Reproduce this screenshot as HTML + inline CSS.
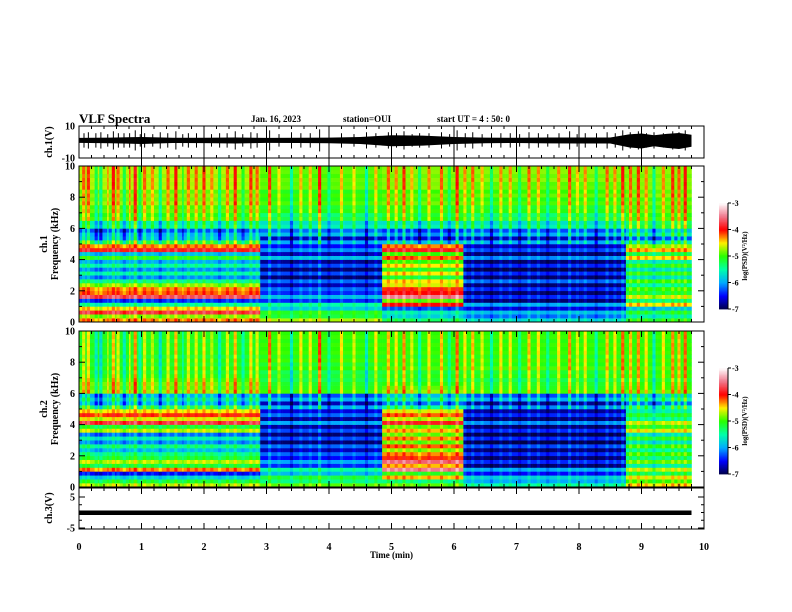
<!DOCTYPE html>
<html><head><meta charset="utf-8"><style>
body{margin:0;background:#fff;width:792px;height:612px;overflow:hidden}
svg{display:block}
text{font-family:"Liberation Serif",serif;font-weight:bold;fill:#000}
</style></head><body>
<svg id="s" width="792" height="612" viewBox="0 0 792 612" xmlns="http://www.w3.org/2000/svg">
<text x="79" y="123" font-size="13">VLF Spectra</text>
<text x="251" y="122" font-size="9">Jan. 16, 2023</text>
<text x="343" y="122" font-size="9">station=OUI</text>
<text x="437" y="122" font-size="9">start UT =  4 : 50: 0</text>
<g id="g"></g>
</svg>
<script>
// ---- data ----
const segStarts=[0,2.9,4.85,6.15,8.75];
const segEnds=[2.9,4.85,6.15,8.75,9.8];
const freqKHz=[0,0.5,1,1.5,2,2.5,3,3.5,4,4.5,5,5.5,6,6.5,7,7.5,8,8.5,9,9.5];
const ch1Profiles=[
[-4.6,-4.2,-6.0,-3.9,-4.6,-5.8,-5.7,-5.8,-5.6,-4.1,-5.5,-6.2,-5.5,-5.0,-4.9,-4.8,-4.8,-4.7,-4.7,-4.7],
[-5.0,-5.5,-6.0,-6.1,-6.5,-6.6,-6.5,-6.6,-6.4,-6.3,-6.3,-6.1,-5.6,-5.3,-5.1,-5.0,-5.0,-4.9,-4.9,-4.9],
[-5.6,-6.0,-4.5,-3.7,-4.4,-4.9,-4.7,-4.8,-4.7,-4.1,-6.2,-6.3,-5.6,-5.1,-5.0,-4.9,-4.9,-4.8,-4.8,-4.8],
[-6.0,-6.3,-6.5,-6.6,-6.7,-6.6,-6.6,-6.7,-6.6,-6.5,-6.3,-6.2,-5.6,-5.3,-5.1,-5.0,-4.9,-4.9,-4.8,-4.8],
[-5.4,-5.6,-5.0,-4.9,-5.3,-5.4,-5.3,-5.4,-5.0,-4.6,-5.9,-5.8,-5.2,-5.0,-4.9,-4.9,-4.8,-4.8,-4.8,-4.8]];
const ch2Profiles=[
[-5.0,-6.2,-4.8,-4.9,-5.7,-5.8,-5.8,-5.0,-4.3,-4.3,-5.6,-5.9,-4.8,-4.9,-5.1,-5.1,-5.1,-5.1,-5.1,-5.1],
[-5.2,-5.6,-6.0,-6.2,-6.5,-6.6,-6.5,-6.6,-6.5,-6.4,-6.3,-6.2,-5.0,-5.2,-5.2,-5.1,-5.0,-5.0,-5.0,-5.0],
[-5.2,-4.8,-4.0,-3.8,-4.6,-4.6,-4.5,-4.7,-4.4,-4.4,-5.8,-5.8,-4.8,-5.1,-5.1,-5.0,-5.0,-5.0,-5.0,-5.0],
[-5.8,-6.2,-6.5,-6.6,-6.7,-6.7,-6.6,-6.7,-6.6,-6.6,-6.4,-6.2,-5.0,-5.2,-5.1,-5.0,-5.0,-5.0,-5.0,-5.0],
[-4.8,-5.0,-5.2,-5.1,-5.3,-5.4,-5.3,-4.9,-5.2,-5.4,-5.8,-5.7,-4.9,-5.1,-5.0,-5.0,-5.0,-5.0,-5.0,-5.0]];
const rowOffsets=[0.3,-0.2,0.4,-0.3,0.5,-0.4,0.2,-0.3,0.3,-0.2,0.4,-0.3,0.2,-0.4,0.3,-0.2,0.5,-0.3,0.2,-0.2,0.3,-0.4,0.2,-0.1,0.1,-0.2,0.2,-0.1,0.1,-0.1,0.2,-0.1,0.1,-0.2,0.1,0,0.1,-0.1,0.1,0];
const streakTimes=[0.08,0.15,0.27,0.35,0.46,0.55,0.63,0.72,0.81,0.9,0.98,1.05,1.18,1.3,1.42,1.55,1.66,1.75,1.88,2.0,2.12,2.25,2.37,2.5,2.62,2.75,2.85,3.05,3.2,3.4,3.55,3.7,3.85,4.0,4.2,4.4,4.6,4.75,4.95,5.08,5.2,5.33,5.45,5.6,5.8,5.93,6.05,6.18,6.3,6.45,6.6,6.75,6.9,7.05,7.2,7.35,7.5,7.68,7.85,7.97,8.1,8.28,8.45,8.58,8.7,8.82,8.95,9.08,9.2,9.35,9.5,9.6,9.7];
const streakStrength=[0.5,0.6,-0.5,-0.6,0.4,0.7,0.5,-0.5,0.5,0.8,-0.4,0.5,0.4,-0.6,0.5,0.7,-0.4,0.5,0.5,0.6,0.4,-0.5,0.5,0.7,-0.4,0.6,0.5,0.8,0.4,-0.6,0.5,0.5,0.9,-0.4,0.5,0.4,-0.6,0.5,0.6,0.5,0.7,0.4,-0.5,0.5,0.6,-0.4,0.8,0.5,0.6,0.4,-0.5,0.5,0.5,-0.4,0.6,0.5,-0.4,0.5,0.7,0.4,0.5,-0.5,0.6,0.5,0.8,0.6,0.7,0.5,-0.6,0.5,0.7,0.6,0.8];
const waveTimes=[0,0.5,1,1.5,2,2.5,3,3.5,4,4.5,5,5.5,6,6.5,7,7.5,8,8.5,8.8,9,9.2,9.4,9.6,9.8];
const waveAmp=[2.5,2.8,3.5,2.6,2.7,3.0,2.5,2.6,2.8,3.5,5.5,5.0,3.5,2.8,2.6,2.9,3.0,3.0,6.5,7.5,5.5,7,8,6];
const cbTicks=[-3,-4,-5,-6,-7];
const xTicks=[0,1,2,3,4,5,6,7,8,9,10];
// ---- layout ----
const X0=79,X1=704,TMAX=10;
const xs=t=>X0+(X1-X0)*t/TMAX;
const g=document.getElementById('g');
const NS='http://www.w3.org/2000/svg';
function el(tag,attrs,parent){const e=document.createElementNS(NS,tag);for(const k in attrs)e.setAttribute(k,attrs[k]);(parent||g).appendChild(e);return e;}
function cmap(v){
 const stops=[[-7,[0,0,70]],[-6.5,[0,0,255]],[-6,[0,170,255]],[-5.5,[0,255,170]],[-5,[40,255,0]],[-4.5,[255,240,0]],[-4,[255,0,0]],[-3.5,[240,120,140]],[-3,[255,255,255]]];
 if(v<=-7)return 'rgb(0,0,70)'; if(v>=-3)return 'rgb(255,255,255)';
 for(let i=0;i<stops.length-1;i++){const a=stops[i],b=stops[i+1];if(v<=b[0]){const f=(v-a[0])/(b[0]-a[0]);const c=a[1].map((x,j)=>Math.round(x+(b[1][j]-x)*f));return `rgb(${c})`;}}
}
function segIdx(t){for(let i=0;i<segStarts.length;i++)if(t>=segStarts[i]&&t<segEnds[i])return i;return -1;}
function streakAt(t){let s=0;for(let i=0;i<streakTimes.length;i++){if(Math.abs(t-streakTimes[i])<0.02)s+=streakStrength[i];}return s;}
function spectro(name,profiles,top,bot){
 const grp=el('g',{});
 
 
 const ncol=392,nrow=40,dt=9.8/ncol,rh=(bot-top)/nrow;
 for(let c=0;c<ncol;c++){
  const t=(c+0.5)*dt,si=segIdx(t);if(si<0)continue;
  const st=streakAt(t);
  for(let r=0;r<nrow;r++){
   const f=r*0.25,pi=Math.min(19,Math.floor(f/0.5));
   let v=profiles[si][pi]+rowOffsets[r]*(pi<12?1:0.4);
   v+=st*(f>=5?1:0.35);
   const rc=el('rect',{x:xs(c*dt).toFixed(2),y:(bot-(r+1)*rh).toFixed(2),width:(xs(dt)-X0+0.3).toFixed(2),height:(rh+0.3).toFixed(2),fill:cmap(v)},grp);
   
   
  }
 }
 frame(top,bot,[0,2,4,6,8,10],k=>bot-(bot-top)*k/10,'freq');
}
function frame(top,bot,yt,ys,kind){
 const b=el('rect',{x:X0,y:top,width:X1-X0,height:bot-top,fill:'none',stroke:'#000','stroke-width':1});
 
 
 for(let t=0;t<=10.001;t+=0.2){const x=xs(t),L=Math.abs(t-Math.round(t))<0.01?6:3;
  el('line',{x1:x,x2:x,y1:top,y2:top+L,stroke:'#000'});el('line',{x1:x,x2:x,y1:bot,y2:bot-L,stroke:'#000'});}
 yt.forEach(v=>{const y=ys(v);el('line',{x1:X0,x2:X0+6,y1:y,y2:y,stroke:'#000'});el('line',{x1:X1,x2:X1-6,y1:y,y2:y,stroke:'#000'});
  const tx=el('text',{x:X0-4,y:y+3.5,'font-size':10,'text-anchor':'end'});tx.textContent=v;
  
  });
 if(kind==='freq'){for(let v=1;v<10;v+=2){const y=ys(v);el('line',{x1:X0,x2:X0+3,y1:y,y2:y,stroke:'#000'});el('line',{x1:X1,x2:X1-3,y1:y,y2:y,stroke:'#000'});}}
}
function ylabel(lines,x,y,name){const t=el('text',{transform:`translate(${x},${y}) rotate(-90)`,'font-size':10,'text-anchor':'middle'});
 
 
 lines.forEach((s,i)=>{const ts=el('tspan',{x:0,dy:i?11:0},t);ts.textContent=s;});}
function colorbar(top,bot,name){
 const cx=719,w=9,grp=el('g',{});
 
 
 for(let i=0;i<80;i++){const v=-7+4*(i+0.5)/80;el('rect',{x:cx,y:bot-(i+1)*(bot-top)/80,width:w,height:(bot-top)/80+0.4,fill:cmap(v)},grp);}
 el('line',{x1:cx+w,x2:cx+w,y1:top,y2:bot,stroke:'#000'},grp);
 cbTicks.forEach(v=>{const y=bot-(bot-top)*(v+7)/4;el('line',{x1:cx+w,x2:cx+w+3,y1:y,y2:y,stroke:'#000'},grp);
  const t=el('text',{x:cx+w+4,y:y+3,'font-size':8},grp);t.textContent=v;
  
  });
 const lb=el('text',{transform:`translate(${cx+w+19},${(top+bot)/2}) rotate(-90)`,'font-size':7,'text-anchor':'middle'},grp);
 lb.textContent='log(PSD)(V²/Hz)';
 
 
}
// waveform panel
(function(){
 const top=126,bot=158,ys=v=>(top+bot)/2-v*(bot-top)/20;
 const grp=el('g',{});
 
 
 let up='',dn='';
 for(let i=0;i<waveTimes.length;i++){up+=`${xs(waveTimes[i])},${ys(1.2+waveAmp[i]*0.55)} `;dn=`${xs(waveTimes[i])},${ys(1.2-waveAmp[i]*0.7)} `+dn;}
 el('polygon',{points:up+dn,fill:'#000'},grp);
 streakTimes.forEach((t,i)=>{const a=Math.min(8.5,Math.abs(streakStrength[i])*6+1.5);el('line',{x1:xs(t),x2:xs(t),y1:ys(1+a),y2:ys(1-a),stroke:'#000','stroke-width':1},grp);});
 for(let m=1;m<10;m++)el('line',{x1:xs(m),x2:xs(m),y1:top,y2:166,stroke:'#000'});
 frame(top,bot,[10,-10],v=>v>0?top:bot,'w');
 el('line',{x1:X0,x2:X1,y1:166,y2:166,stroke:'#000'});
 ylabel(['ch.1(V)'],52,142,'ch1-y-axis-title');
})();
spectro('ch1-spectrogram',ch1Profiles,166,322);
ylabel(['ch.1','Frequency (kHz)'],47,244,'ch1-freq-axis-title');
colorbar(203,309,'ch1-colorbar');
spectro('ch2-spectrogram',ch2Profiles,331,487);
ylabel(['ch.2','Frequency (kHz)'],47,409,'ch2-freq-axis-title');
colorbar(368,474,'ch2-colorbar');
// ch3 panel
(function(){
 const top=488,bot=529,ys=v=>512.5-v*3.1;
 const ln=el('rect',{x:X0,y:ys(0)-2,width:xs(9.8)-X0,height:4.5,fill:'#000'});
 
 
 frame(top,bot,[5,-5],ys,'w');
 [2.5,0,-2.5].forEach(v=>{const y=ys(v);el('line',{x1:X0,x2:X0+3,y1:y,y2:y,stroke:'#000'});el('line',{x1:X1,x2:X1-3,y1:y,y2:y,stroke:'#000'});});
 ylabel(['ch.3(V)'],52,508,'ch3-y-axis-title');
 xTicks.forEach(v=>{const t=el('text',{x:xs(v),y:550,'font-size':10,'text-anchor':'middle'});t.textContent=v;
  
  });
 const xt=el('text',{x:xs(5),y:558,'font-size':9,'text-anchor':'middle'});xt.textContent='Time (min)';
 
 
})();
</script>
</body></html>
